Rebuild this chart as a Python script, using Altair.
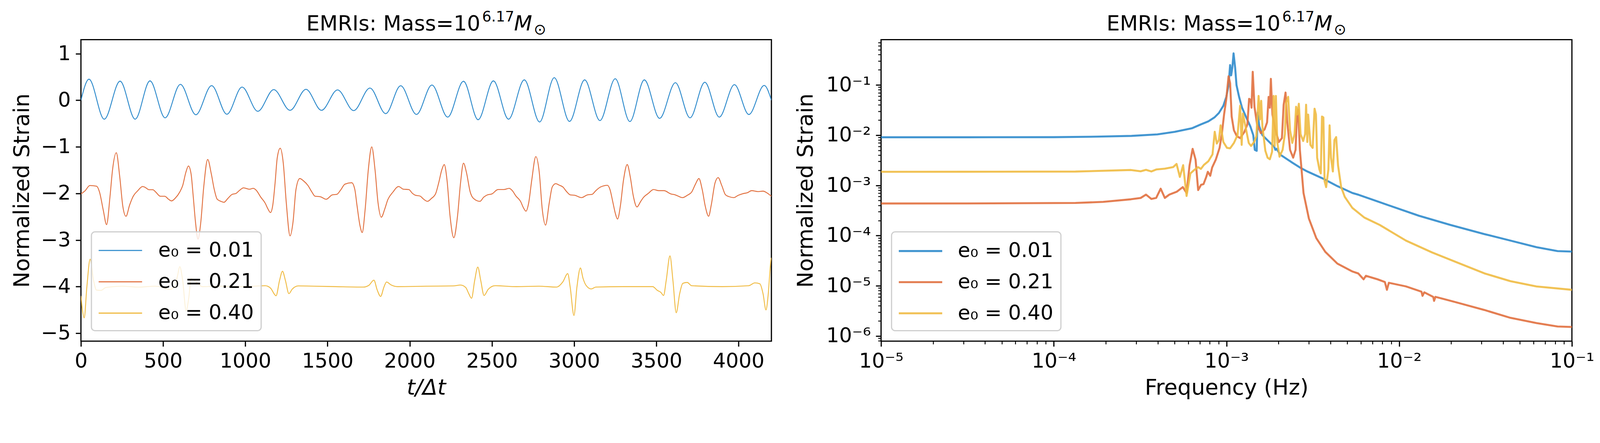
import altair as alt
import pandas as pd

FONT = "DejaVu Sans"

series_labels = ["e₀ = 0.01", "e₀ = 0.21", "e₀ = 0.40"]
series_colors = ["#2f8bcc", "#e1703f", "#f0bb43"]

# ---------------- left panel: time-domain strain (t/dt, strain) ----------------
time_blue = [(0, 0.0), (49, 0.452), (142, -0.406), (238, 0.410), (330, -0.406), (420, 0.416),
             (512, -0.377), (605, 0.342), (699, -0.311), (795, 0.315), (888, -0.300), (980, 0.283),
             (1076, -0.237), (1173, 0.229), (1272, -0.216), (1369, 0.235), (1463, -0.216), (1561, 0.223),
             (1659, -0.222), (1758, 0.262), (1854, -0.288), (1945, 0.312), (2041, -0.306), (2135, 0.327),
             (2231, -0.362), (2327, 0.408), (2416, -0.418), (2509, 0.416), (2601, -0.406), (2697, 0.437),
             (2790, -0.466), (2879, 0.485), (2972, -0.454), (3064, 0.437), (3157, -0.436), (3250, 0.461),
             (3339, -0.457), (3427, 0.437), (3520, -0.389), (3616, 0.378), (3705, -0.377), (3795, 0.387),
             (3883, -0.362), (3975, 0.336), (4063, -0.306), (4156, 0.318), (4200, 0.0)]

time_orange = [(0, -2.01), (26, -1.94), (54, -1.83), (95, -1.845), (113, -1.97), (136, -2.36), (156, -2.67),
               (177, -2.06), (192, -1.50), (215, -1.126), (236, -1.64), (255, -2.28), (274, -2.49),
               (296, -2.25), (318, -2.06), (346, -1.94), (375, -1.85), (391, -1.87), (414, -1.92),
               (437, -1.92), (455, -1.97), (483, -2.06), (510, -2.06), (533, -2.125), (551, -2.16),
               (574, -2.10), (601, -1.97), (619, -1.83), (638, -1.55), (654, -1.41), (670, -1.58),
               (683, -2.06), (697, -2.62), (712, -2.98), (729, -2.62), (747, -1.86), (771, -1.27),
               (793, -1.58), (811, -1.915), (829, -2.125), (852, -2.17), (870, -2.19), (893, -2.11),
               (920, -2.02), (943, -2.0), (966, -1.93), (989, -1.88), (1003, -1.89), (1025, -1.91),
               (1048, -1.89), (1066, -1.93), (1094, -2.08), (1121, -2.21), (1138, -2.335), (1153, -2.41),
               (1167, -2.25), (1181, -1.775), (1194, -1.24), (1212, -1.03), (1231, -1.355), (1249, -2.195),
               (1272, -2.91), (1290, -2.615), (1308, -1.915), (1331, -1.68), (1354, -1.73), (1381, -1.83),
               (1405, -1.97), (1424, -2.06), (1456, -2.07), (1492, -2.125), (1529, -2.03), (1556, -2.02),
               (1579, -1.93), (1606, -1.80), (1647, -1.77), (1666, -1.915), (1679, -2.25), (1698, -2.70),
               (1711, -2.84), (1729, -2.335), (1748, -1.495), (1769, -1.0), (1789, -1.495), (1807, -2.195),
               (1827, -2.51), (1848, -2.335), (1866, -2.14), (1898, -1.97), (1932, -1.85), (1962, -1.91),
               (1994, -1.915), (2017, -2.0), (2035, -2.04), (2062, -2.055), (2085, -2.125), (2108, -2.17),
               (2131, -2.11), (2158, -2.0), (2176, -1.775), (2195, -1.495), (2210, -1.38), (2227, -1.72),
               (2245, -2.475), (2268, -2.95), (2291, -2.475), (2309, -1.775), (2327, -1.35), (2345, -1.55),
               (2368, -1.97), (2386, -2.10), (2427, -2.17), (2450, -2.08), (2473, -2.03), (2500, -2.01),
               (2537, -1.915), (2573, -1.915), (2605, -1.89), (2624, -1.94), (2646, -2.055), (2674, -2.17),
               (2692, -2.31), (2707, -2.38), (2724, -2.195), (2742, -1.72), (2767, -1.21), (2788, -1.55),
               (2806, -2.335), (2826, -2.68), (2849, -2.195), (2867, -1.86), (2888, -1.79), (2908, -1.82),
               (2931, -1.86), (2954, -1.96), (2976, -2.03), (3004, -2.04), (3045, -2.09), (3081, -2.03),
               (3109, -2.02), (3132, -1.94), (3159, -1.865), (3203, -1.825), (3218, -1.915), (3236, -2.195),
               (3250, -2.42), (3264, -2.55), (3282, -2.25), (3300, -1.72), (3323, -1.38), (3341, -1.635),
               (3360, -2.055), (3382, -2.29), (3405, -2.17), (3423, -2.08), (3451, -2.0), (3483, -1.915),
               (3515, -1.94), (3547, -1.94), (3588, -2.01), (3615, -2.03), (3659, -2.09), (3688, -2.04),
               (3715, -1.97), (3738, -1.80), (3759, -1.68), (3779, -1.915), (3798, -2.28), (3818, -2.49),
               (3834, -2.25), (3857, -1.775), (3876, -1.66), (3898, -1.83), (3921, -2.03), (3943, -2.07),
               (3971, -2.09), (3998, -2.04), (4026, -2.005), (4053, -1.985), (4080, -1.94), (4117, -1.96),
               (4149, -1.95), (4172, -1.985), (4200, -2.06)]

time_yellow = [(0, -4.20), (20, -4.67), (36, -4.01), (56, -3.41), (77, -3.87), (95, -4.075), (122, -4.08),
               (150, -4.02), (172, -4.01), (250, -3.99), (350, -4.01), (450, -3.99), (492, -4.01),
               (537, -4.06), (569, -4.01), (588, -3.76), (601, -3.57), (619, -3.87), (640, -4.52),
               (656, -4.24), (670, -3.83), (711, -3.93), (738, -4.0), (850, -3.99), (950, -4.0),
               (1050, -3.99), (1121, -3.98), (1153, -4.03), (1187, -4.195), (1208, -3.87), (1226, -3.67),
               (1244, -3.87), (1265, -4.15), (1285, -4.055), (1322, -3.985), (1420, -3.99), (1550, -4.0),
               (1716, -4.01), (1752, -3.97), (1782, -3.86), (1802, -4.07), (1823, -4.21), (1843, -4.01),
               (1859, -3.90), (1885, -3.96), (1926, -4.0), (2100, -3.99), (2263, -3.985), (2309, -3.966),
               (2341, -4.02), (2359, -4.15), (2376, -4.25), (2395, -3.87), (2414, -3.58), (2432, -3.87),
               (2452, -4.19), (2478, -4.055), (2519, -3.98), (2650, -4.0), (2785, -3.99), (2894, -4.01),
               (2931, -3.90), (2961, -3.72), (2976, -4.01), (2999, -4.62), (3017, -4.01), (3038, -3.60),
               (3054, -3.82), (3072, -3.97), (3104, -4.05), (3132, -4.01), (3300, -4.0), (3478, -4.0),
               (3506, -4.08), (3528, -4.125), (3544, -4.19), (3560, -3.87), (3583, -3.34), (3601, -3.87),
               (3621, -4.56), (3642, -4.15), (3661, -3.93), (3688, -3.91), (3715, -3.98), (3900, -4.0),
               (4062, -3.98), (4099, -3.92), (4130, -3.94), (4149, -4.15), (4167, -4.50), (4181, -4.15),
               (4197, -3.43), (4200, -3.38)]

# ---------------- right panel: spectra, (log10 frequency, log10 strain) ----------------
spec_blue = [(-5.0, -2.042), (-4.5, -2.042), (-4.0, -2.040), (-3.75, -2.030), (-3.55, -2.015), (-3.40, -1.985),
             (-3.30, -1.935), (-3.20, -1.863), (-3.148, -1.785), (-3.105, -1.726), (-3.070, -1.648),
             (-3.044, -1.559), (-3.018, -1.414), (-3.001, -1.238), (-2.988, -1.004), (-2.979, -0.605),
             (-2.973, -0.809), (-2.966, -0.652), (-2.959, -0.371), (-2.950, -0.652), (-2.942, -1.004),
             (-2.927, -1.238), (-2.910, -1.453), (-2.888, -1.629), (-2.862, -1.824), (-2.845, -2.000),
             (-2.836, -2.293), (-2.825, -2.312), (-2.820, -1.551), (-2.810, -1.824), (-2.792, -2.000),
             (-2.758, -2.117), (-2.723, -2.234), (-2.717, -2.293), (-2.710, -2.273), (-2.688, -2.391),
             (-2.619, -2.547), (-2.575, -2.644), (-2.532, -2.723), (-2.445, -2.859), (-2.358, -3.015),
             (-2.271, -3.152), (-2.234, -3.189), (-2.083, -3.371), (-1.886, -3.605), (-1.704, -3.788),
             (-1.507, -3.970), (-1.356, -4.100), (-1.205, -4.231), (-1.083, -4.309), (-1.0, -4.319)]

spec_orange = [(-5.0, -3.361), (-4.5, -3.360), (-3.874, -3.350), (-3.714, -3.329), (-3.553, -3.277),
               (-3.497, -3.251), (-3.466, -3.184), (-3.435, -3.270), (-3.407, -3.250), (-3.381, -3.066),
               (-3.357, -3.250), (-3.331, -3.184), (-3.287, -3.125), (-3.253, -3.035), (-3.231, -3.152),
               (-3.214, -2.605), (-3.196, -2.273), (-3.179, -2.488), (-3.164, -3.094), (-3.147, -2.988),
               (-3.133, -2.976), (-3.118, -2.840), (-3.108, -2.730), (-3.094, -2.808), (-3.083, -2.644),
               (-3.062, -2.488), (-3.040, -2.254), (-3.027, -1.980), (-3.014, -1.590), (-3.001, -1.277),
               (-2.988, -0.828), (-2.979, -0.965), (-2.970, -1.629), (-2.957, -1.902), (-2.940, -2.020),
               (-2.921, -2.059), (-2.897, -1.941), (-2.879, -1.785), (-2.869, -1.277), (-2.860, -1.297),
               (-2.855, -1.453), (-2.848, -0.738), (-2.838, -1.434), (-2.823, -1.785), (-2.801, -1.961),
               (-2.779, -1.883), (-2.765, -1.746), (-2.756, -1.238), (-2.749, -1.453), (-2.743, -0.879),
               (-2.734, -1.590), (-2.719, -1.863), (-2.697, -2.137), (-2.679, -2.059), (-2.669, -1.394),
               (-2.658, -1.152), (-2.649, -1.707), (-2.632, -2.293), (-2.614, -2.449), (-2.600, -2.293),
               (-2.592, -1.590), (-2.585, -1.492), (-2.575, -2.293), (-2.554, -3.152), (-2.523, -3.660),
               (-2.480, -4.051), (-2.428, -4.324), (-2.358, -4.558), (-2.271, -4.715), (-2.237, -4.754),
               (-2.206, -4.871), (-2.193, -4.801), (-2.125, -4.871), (-2.083, -4.924), (-2.071, -5.080),
               (-2.060, -4.940), (-1.961, -5.012), (-1.871, -5.117), (-1.865, -5.200), (-1.855, -5.130),
               (-1.803, -5.221), (-1.798, -5.300), (-1.790, -5.220), (-1.674, -5.325), (-1.507, -5.481),
               (-1.356, -5.638), (-1.205, -5.742), (-1.083, -5.810), (-1.0, -5.820)]

spec_yellow = [(-5.0, -2.730), (-4.5, -2.729), (-3.874, -2.725), (-3.553, -2.694), (-3.497, -2.720),
               (-3.466, -2.691), (-3.435, -2.723), (-3.405, -2.683), (-3.357, -2.668), (-3.309, -2.637),
               (-3.289, -2.574), (-3.270, -2.832), (-3.251, -2.598), (-3.231, -3.211), (-3.209, -2.762),
               (-3.187, -2.695), (-3.164, -2.637), (-3.148, -2.672), (-3.131, -2.594), (-3.105, -2.520),
               (-3.081, -2.383), (-3.068, -1.933), (-3.056, -2.168), (-3.044, -2.098), (-3.034, -1.805),
               (-3.018, -2.137), (-2.997, -2.254), (-2.979, -2.262), (-2.957, -2.156), (-2.936, -2.000),
               (-2.921, -1.414), (-2.912, -2.195), (-2.905, -1.570), (-2.888, -1.863), (-2.871, -2.156),
               (-2.858, -2.215), (-2.840, -2.137), (-2.827, -2.020), (-2.814, -1.219), (-2.806, -1.687),
               (-2.799, -1.316), (-2.792, -1.824), (-2.775, -2.312), (-2.762, -2.449), (-2.749, -2.480),
               (-2.736, -2.332), (-2.727, -1.219), (-2.721, -2.215), (-2.714, -1.219), (-2.706, -2.137),
               (-2.693, -2.430), (-2.675, -2.293), (-2.662, -1.980), (-2.655, -1.355), (-2.643, -1.238),
               (-2.632, -1.902), (-2.619, -2.156), (-2.606, -1.980), (-2.597, -1.434), (-2.590, -1.590),
               (-2.581, -1.375), (-2.571, -1.980), (-2.556, -2.117), (-2.545, -1.980), (-2.539, -1.394),
               (-2.532, -2.137), (-2.527, -1.590), (-2.514, -2.195), (-2.501, -2.254), (-2.490, -1.473),
               (-2.482, -1.590), (-2.475, -2.449), (-2.462, -2.683), (-2.454, -2.762), (-2.447, -1.629),
               (-2.439, -1.648), (-2.432, -2.918), (-2.423, -3.035), (-2.410, -2.683), (-2.403, -1.805),
               (-2.395, -2.449), (-2.384, -2.723), (-2.375, -2.098), (-2.365, -2.039), (-2.354, -2.605),
               (-2.336, -3.035), (-2.315, -3.230), (-2.271, -3.450), (-2.202, -3.641), (-2.113, -3.788),
               (-1.961, -4.100), (-1.810, -4.335), (-1.659, -4.543), (-1.507, -4.752), (-1.356, -4.908),
               (-1.205, -5.013), (-1.0, -5.080)]

# ---------------- ticks ----------------
time_ticks = [0, 500, 1000, 1500, 2000, 2500, 3000, 3500, 4000]
strain_ticks = [-5, -4, -3, -2, -1, 0, 1]
freq_ticks = [1e-5, 1e-4, 1e-3, 1e-2, 1e-1]
freq_tick_labels = ["10⁻⁵", "10⁻⁴", "10⁻³", "10⁻²", "10⁻¹"]
amp_ticks = [1e-6, 1e-5, 1e-4, 1e-3, 1e-2, 1e-1]
amp_tick_labels = ["10⁻⁶", "10⁻⁵", "10⁻⁴", "10⁻³", "10⁻²", "10⁻¹"]
minor_mults = [2, 3, 4, 5, 6, 7, 8, 9]
freq_minor = [m * 10.0 ** k for k in (-5, -4, -3, -2) for m in minor_mults]
amp_minor = [8e-7, 9e-7] + [m * 10.0 ** k for k in (-6, -5, -4, -3, -2) for m in minor_mults] + \
            [2e-1, 3e-1, 4e-1, 5e-1, 6e-1, 7e-1]

# ---------------- data frames ----------------
rows = []
for lab, pts in zip(series_labels, [time_blue, time_orange, time_yellow]):
    for t, h in pts:
        rows.append({"t": t, "h": h, "series": lab})
df_time = pd.DataFrame(rows)

rows = []
for lab, pts in zip(series_labels, [spec_blue, spec_orange, spec_yellow]):
    for lf, ls in pts:
        rows.append({"f": 10.0 ** lf, "s": 10.0 ** ls, "series": lab})
df_spec = pd.DataFrame(rows)


def label_expr(values, labels):
    expr = "'" + labels[-1] + "'"
    for v, lab in reversed(list(zip(values[:-1], labels[:-1]))):
        expr = "datum.value < " + format(v * 3, "g") + " ? '" + lab + "' : " + expr
    return expr


ax_common = dict(labelFont=FONT, labelFontSize=56, labelColor="black", tickColor="black",
                 tickWidth=3.3, tickSize=14.6, labelPadding=14, domain=False, grid=False,
                 titleFont=FONT, titleFontSize=60, titleFontWeight="normal", titleColor="black",
                 labelOverlap=False)
x_ax = dict(minExtent=84, maxExtent=84, titlePadding=15.6, labelFlush=False)

legend_common = dict(orient="bottom-left", offset=29, padding=20,
                     fillColor="rgba(255,255,255,0.8)", strokeColor="#cfcfcf", cornerRadius=10,
                     labelFont=FONT, labelFontSize=56, labelColor="black", labelLimit=800,
                     symbolType="M-2,0H2", symbolSize=3600)

color_scale = alt.Scale(domain=series_labels, range=series_colors)


def title_layers():
    base = alt.Chart(alt.Data(values=[{"k": 0}]))
    return [
        base.mark_text(text="EMRIs: Mass=10", font=FONT, fontSize=58, align="left",
                       baseline="alphabetic", color="black").encode(x=alt.value(623), y=alt.value(-25)),
        base.mark_text(text="6.17", font=FONT, fontSize=40, align="left",
                       baseline="alphabetic", color="black").encode(x=alt.value(1108.5), y=alt.value(-50.7)),
        base.mark_text(text="M", font=FONT, fontStyle="italic", fontSize=58, align="left",
                       baseline="alphabetic", color="black").encode(x=alt.value(1197), y=alt.value(-25)),
        base.mark_text(text="⊙", font=FONT, fontSize=41, align="center",
                       baseline="middle", color="black").encode(x=alt.value(1268.5), y=alt.value(-26.75)),
    ]


# ---------------- left panel ----------------
left_lines = alt.Chart(df_time).mark_line(strokeWidth=2.5, strokeJoin="round", clip=True,
                                           interpolate="monotone").encode(
    x=alt.X("t:Q", scale=alt.Scale(domain=[0, 4200], nice=False, zero=False),
            axis=alt.Axis(values=time_ticks, format="d", title="t/Δt", titleFontStyle="italic",
                          **ax_common, **x_ax)),
    y=alt.Y("h:Q", scale=alt.Scale(domain=[-5.17, 1.30], nice=False, zero=False),
            axis=alt.Axis(values=strain_ticks, format="d", title="Normalized Strain",
                          minExtent=112, maxExtent=112, titlePadding=19.4, **ax_common)),
    color=alt.Color("series:N", scale=color_scale, title=None,
                    legend=alt.Legend(symbolStrokeWidth=3, symbolOffset=28.5, labelOffset=73,
                                      rowPadding=26.5, **legend_common)),
)
left = alt.layer(left_lines, *title_layers()).properties(width=1908, height=833)

# ---------------- right panel ----------------
fx_scale = alt.Scale(type="log", domain=[1e-5, 1e-1], nice=False)
fy_scale = alt.Scale(type="log", domain=[7.9e-7, 0.796], nice=False)

right_lines = alt.Chart(df_spec).mark_line(strokeWidth=5.5, opacity=0.9, strokeJoin="round",
                                           clip=True).encode(
    x=alt.X("f:Q", scale=fx_scale,
            axis=alt.Axis(values=freq_ticks, labelExpr=label_expr(freq_ticks, freq_tick_labels),
                          title="Frequency (Hz)", **ax_common, **x_ax)),
    y=alt.Y("s:Q", scale=fy_scale,
            axis=alt.Axis(values=amp_ticks, labelExpr=label_expr(amp_ticks, amp_tick_labels),
                          title="Normalized Strain", minExtent=159, maxExtent=159,
                          titlePadding=18.4, **ax_common)),
    color=alt.Color("series:N", scale=color_scale, title=None,
                    legend=alt.Legend(symbolStrokeWidth=5.5, symbolOffset=27, labelOffset=70,
                                      rowPadding=25, **legend_common)),
)
right_minor = alt.Chart(df_spec).mark_point(opacity=0, size=1).encode(
    x=alt.X("f:Q", scale=fx_scale,
            axis=alt.Axis(values=freq_minor, orient="bottom", labels=False, domain=False, grid=False,
                          tickSize=8.3, tickWidth=2.5, tickColor="black", title=None)),
    y=alt.Y("s:Q", scale=fy_scale,
            axis=alt.Axis(values=amp_minor, orient="left", labels=False, domain=False, grid=False,
                          tickSize=8.3, tickWidth=2.5, tickColor="black", title=None)),
)
right = alt.layer(right_lines, right_minor, *title_layers()).resolve_axis(
    x="independent", y="independent").properties(width=1909, height=833)

chart = alt.hconcat(left, right, spacing=60).resolve_scale(color="independent").properties(
    padding={"left": 20, "top": -26, "right": 5, "bottom": 5},
    background="white",
).configure_view(stroke="black", strokeWidth=3.3).configure_legend(strokeWidth=3.3)

chart.save("out.html", embed_options={"renderer": "svg", "actions": False})
